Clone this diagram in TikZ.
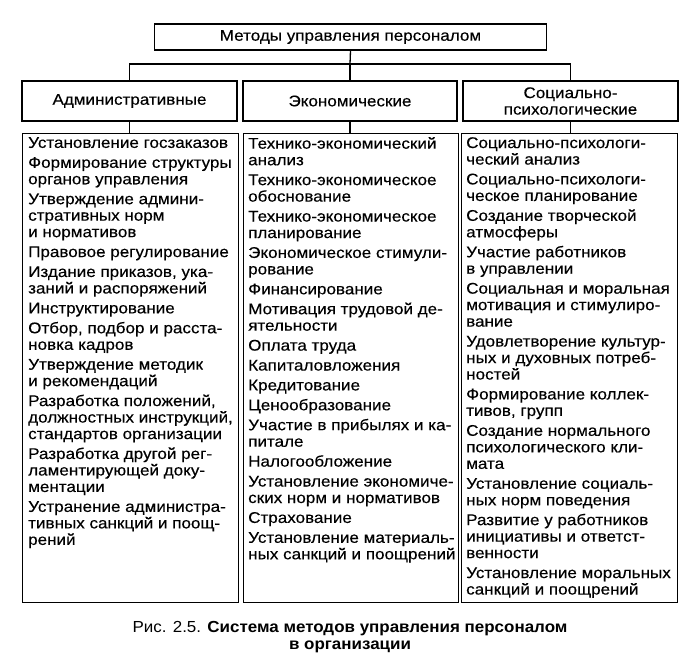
\documentclass[tikz,border=0pt]{standalone}
\usepackage{fontspec}
\setmainfont[FakeStretch=1.10,FakeBold=0.3]{Liberation Sans}
\newfontfamily\capfam[FakeStretch=1.06]{Liberation Sans}
\newcommand\lfnt{\fontsize{15.5}{16.5}\selectfont}
\tikzset{
  frame/.style={draw, line width=1.3pt, inner sep=0pt},
  hdr/.style={frame, minimum height=40pt, align=center, font=\lfnt},
  colbox/.style={frame, anchor=north west, minimum height=469pt},
  coltext/.style={anchor=north west, inner sep=0pt, align=left, font=\lfnt},
  link/.style={line width=1.3pt},
}
\begin{document}
\begin{tikzpicture}[x=1pt,y=-1pt]
\useasboundingbox (0,0) rectangle (682,659);
\node[frame, minimum width=392pt, minimum height=26pt, font=\lfnt] (top) at (350.5,37) {Методы управления персоналом};
\node[hdr, minimum width=215pt] (h1) at (129.5,101) {Административные};
\node[hdr, minimum width=214pt] (h2) at (350,101) {Экономические};
\node[hdr, minimum width=215pt] (h3) at (570.5,101) {Социально-\\психологические};
\coordinate (j) at (350,64);
\draw[link] (top.south) -- (j);
\draw[link] (h1.north) |- (j) -| (h3.north);
\draw[link] (j) -- (h2.north);
\node[colbox, minimum width=216pt] (c1) at (22,133) {};
\node[colbox, minimum width=215pt] (c2) at (243,133) {};
\node[colbox, minimum width=216pt] (c3) at (461,133) {};
\draw[link] (h1.south) -- (h1.south |- c1.north);
\draw[link] (h2.south) -- (h2.south |- c2.north);
\draw[link] (h3.south) -- (h3.south |- c3.north);
\node[coltext] (t1) at ([xshift=6pt,yshift=-4pt]c1.north west) {%
Установление госзаказов\\[3.4pt]
Формирование структуры\\
органов управления\\[3.4pt]
Утверждение админи-\\
стративных норм\\
и нормативов\\[3.4pt]
Правовое регулирование\\[3.4pt]
Издание приказов, ука-\\
заний и распоряжений\\[3.4pt]
Инструктирование\\[3.4pt]
Отбор, подбор и расста-\\
новка кадров\\[3.4pt]
Утверждение методик\\
и рекомендаций\\[3.4pt]
Разработка положений,\\
должностных инструкций,\\
стандартов организации\\[3.4pt]
Разработка другой рег-\\
ламентирующей доку-\\
ментации\\[3.4pt]
Устранение администра-\\
тивных санкций и поощ-\\
рений};
\node[coltext] (t2) at ([xshift=5pt,yshift=-4pt]c2.north west) {%
Технико-экономический\\
анализ\\[3.4pt]
Технико-экономическое\\
обоснование\\[3.4pt]
Технико-экономическое\\
планирование\\[3.4pt]
Экономическое стимули-\\
рование\\[3.4pt]
Финансирование\\[3.4pt]
Мотивация трудовой де-\\
ятельности\\[3.4pt]
Оплата труда\\[3.4pt]
Капиталовложения\\[3.4pt]
Кредитование\\[3.4pt]
Ценообразование\\[3.4pt]
Участие в прибылях и ка-\\
питале\\[3.4pt]
Налогообложение\\[3.4pt]
Установление экономиче-\\
ских норм и нормативов\\[3.4pt]
Страхование\\[3.4pt]
Установление материаль-\\
ных санкций и поощрений};
\node[coltext] (t3) at ([xshift=5pt,yshift=-4pt]c3.north west) {%
Социально-психологи-\\
ческий анализ\\[3.4pt]
Социально-психологи-\\
ческое планирование\\[3.4pt]
Создание творческой\\
атмосферы\\[3.4pt]
Участие работников\\
в управлении\\[3.4pt]
Социальная и моральная\\
мотивация и стимулиро-\\
вание\\[3.4pt]
Удовлетворение культур-\\
ных и духовных потреб-\\
ностей\\[3.4pt]
Формирование коллек-\\
тивов, групп\\[3.4pt]
Создание нормального\\
психологического кли-\\
мата\\[3.4pt]
Установление социаль-\\
ных норм поведения\\[3.4pt]
Развитие у работников\\
инициативы и ответст-\\
венности\\[3.4pt]
Установление моральных\\
санкций и поощрений};
\node[align=center, inner sep=0pt, font=\capfam\fontsize{16}{17}\selectfont] (cap) at (350,637) {Рис. 2.5. \textbf{Система методов управления персоналом}\\\textbf{в организации}};
\end{tikzpicture}
\end{document}
